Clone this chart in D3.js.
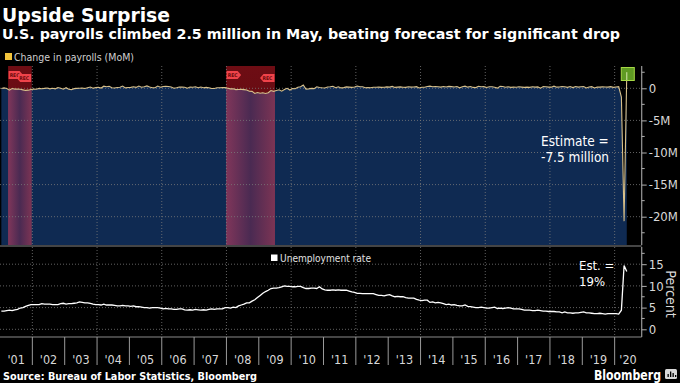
<!DOCTYPE html>
<html>
<head>
<meta charset="utf-8">
<script src="https://cdn.jsdelivr.net/npm/d3@7/dist/d3.min.js"></script>
<style>
html,body{margin:0;padding:0;background:#000;}
svg{display:block;}
</style>
</head>
<body>
<svg id="chart" width="680" height="383"></svg>
<script>
// ---------------- DATA ----------------
const title = "Upside Surprise";
const subtitle = "U.S. payrolls climbed 2.5 million in May, beating forecast for significant drop";
const yearLabels = ["'01","'02","'03","'04","'05","'06","'07","'08","'09","'10","'11","'12","'13","'14","'15","'16","'17","'18","'19","'20"];
const firstYear = 2001;
// Monthly change in nonfarm payrolls (thousands), Jan 2001 - May 2020
const payrollChange = [
  -20, 70, -30, -280, -40, -130, -120, -160, -240, -330, -290, -180,
  -130, -140, -20, -80, -10, 40, -90, 10, -80, 120, 10, -150,
  90, -160, -210, -50, -10, 0, 20, -40, 100, 200, 20, 110,
  160, 40, 330, 250, 310, 80, 40, 130, 160, 350, 60, 130,
  140, 240, 140, 360, 170, 240, 370, 190, 80, 80, 340, 160,
  280, 320, 290, 190, 20, 80, 200, 180, 160, 10, 210, 170,
  240, 90, 190, 80, 140, 80, -30, -20, 80, 80, 110, 100,
  20, -90, -80, -210, -190, -170, -210, -270, -460, -480, -800, -660,
  -780, -700, -800, -690, -350, -470, -330, -220, -440, -200, -10, -270,
  -30, -60, 170, 250, 520, -120, -90, -20, -50, 240, 130, 80,
  50, 200, 250, 320, 100, 230, 60, 110, 220, 190, 140, 210,
  360, 230, 230, 80, 110, 80, 170, 170, 190, 150, 170, 220,
  190, 300, 140, 190, 220, 160, 140, 240, 190, 210, 260, 60,
  160, 160, 280, 330, 240, 290, 240, 190, 280, 210, 300, 260,
  200, 280, 80, 250, 340, 180, 280, 140, 110, 320, 250, 260,
  130, 240, 230, 160, 30, 300, 270, 170, 240, 140, 180, 170,
  230, 190, 150, 180, 140, 230, 190, 220, 20, 260, 230, 190,
  180, 330, 180, 200, 280, 230, 150, 270, 110, 270, 180, 240,
  270, 50, 190, 260, 60, 180, 190, 220, 210, 190, 260, 150,
  210, 250, -1370, -20690, 2510
];
// Monthly unemployment rate (%), Jan 2001 - May 2020
const unemploymentRate = [
  4.2,4.2,4.3,4.4,4.3,4.5,4.6,4.9,5.0,5.3,5.5,5.7,
  5.7,5.7,5.7,5.9,5.8,5.8,5.8,5.7,5.7,5.7,5.9,6.0,
  5.8,5.9,5.9,6.0,6.1,6.3,6.2,6.1,6.1,6.0,5.8,5.7,
  5.7,5.6,5.8,5.6,5.6,5.6,5.5,5.4,5.4,5.5,5.4,5.4,
  5.3,5.4,5.2,5.2,5.1,5.0,5.0,4.9,5.0,5.0,5.0,4.9,
  4.7,4.8,4.7,4.7,4.6,4.6,4.7,4.7,4.5,4.4,4.5,4.4,
  4.6,4.5,4.4,4.5,4.4,4.6,4.7,4.6,4.7,4.7,4.7,5.0,
  5.0,4.9,5.1,5.0,5.4,5.6,5.8,6.1,6.1,6.5,6.8,7.3,
  7.8,8.3,8.7,9.0,9.4,9.5,9.5,9.6,9.8,10.0,9.9,9.9,
  9.8,9.8,9.9,9.9,9.6,9.4,9.4,9.5,9.5,9.4,9.8,9.3,
  9.1,9.0,9.0,9.1,9.0,9.1,9.0,9.0,9.0,8.8,8.6,8.5,
  8.3,8.3,8.2,8.2,8.2,8.2,8.2,8.0,7.8,7.8,7.7,7.9,
  8.0,7.7,7.5,7.6,7.5,7.5,7.3,7.2,7.2,7.2,6.9,6.7,
  6.6,6.7,6.7,6.2,6.3,6.1,6.2,6.1,5.9,5.7,5.8,5.6,
  5.7,5.5,5.4,5.4,5.6,5.3,5.2,5.1,5.0,5.0,5.1,5.0,
  4.9,4.9,5.0,5.1,4.8,4.9,4.8,4.9,5.0,4.9,4.7,4.7,
  4.7,4.6,4.4,4.4,4.4,4.3,4.3,4.4,4.3,4.2,4.2,4.1,
  4.1,4.1,4.0,4.0,3.8,4.0,3.8,3.8,3.7,3.8,3.8,3.9,
  4.0,3.8,3.8,3.7,3.6,3.6,3.7,3.6,3.5,3.6,3.6,3.6,
  3.6,3.5,4.4,14.7,13.3
];
// Recession periods (decimal years)
const recessionStarts = [2001.25, 2007.99];
const recessionEnds   = [2001.98, 2009.5];
const payrollTicks = [0, -5000, -10000, -15000, -20000];
const payrollTickLabels = ["0", "-5M", "-10M", "-15M", "-20M"];
const rateTicks = [0, 5, 10, 15];
const estimateText = ["Estimate =", "-7.5 million"];
const estRateText = ["Est. =", "19%"];

// ---------------- LAYOUT ----------------
const svg = d3.select("#chart");
const W = 680, H = 383;
const plotL = 0, plotR = 641.7;
const topT = 66, topB = 245;
const botT = 247, botB = 337;
const FONT = "'DejaVu Sans Condensed','DejaVu Sans',sans-serif";
const FONTW = "'DejaVu Sans',Verdana,sans-serif";

const x = d3.scaleLinear().domain([2001, 2021]).range([0, 647]);
const yTop = d3.scaleLinear().domain([0, -20000]).range([88.3, 216.7]);
const yBot = d3.scaleLinear().domain([0, 15]).range([329.3, 264.2]);

const monthX = i => x(firstYear + (i + 0.5) / 12);

svg.append("rect").attr("width", W).attr("height", H).attr("fill", "#000");

const defs = svg.append("defs");
defs.append("clipPath").attr("id", "topClip").append("rect")
  .attr("x", plotL).attr("y", topT).attr("width", plotR - plotL).attr("height", topB - topT);
defs.append("clipPath").attr("id", "botClip").append("rect")
  .attr("x", plotL).attr("y", botT).attr("width", plotR - plotL).attr("height", botB - botT);

const area = d3.area()
  .x((d, i) => monthX(i))
  .y0(topB)
  .y1(d => yTop(d));
defs.append("clipPath").attr("id", "areaClip").append("path")
  .attr("d", area(payrollChange));

const gradNavy = defs.append("linearGradient").attr("id", "recNavy")
  .attr("x1", "0").attr("x2", "1").attr("y1", "0").attr("y2", "0");
gradNavy.append("stop").attr("offset", "0").attr("stop-color", "#80365a");
gradNavy.append("stop").attr("offset", "0.5").attr("stop-color", "#4a2a52");
gradNavy.append("stop").attr("offset", "1").attr("stop-color", "#7c3454");

const gradBlack = defs.append("linearGradient").attr("id", "recBlack")
  .attr("x1", "0").attr("x2", "0").attr("y1", "0").attr("y2", "1");
gradBlack.append("stop").attr("offset", "0").attr("stop-color", "#6e0d14");
gradBlack.append("stop").attr("offset", "1").attr("stop-color", "#4e090e");

// ---------- TOP CHART ----------
const gTop = svg.append("g").attr("clip-path", "url(#topClip)");

recessionStarts.forEach((s, i) => {
  gTop.append("rect")
    .attr("x", x(s)).attr("y", topT)
    .attr("width", x(recessionEnds[i]) - x(s)).attr("height", topB - topT)
    .attr("fill", "url(#recBlack)");
});

gTop.append("path").attr("d", area(payrollChange)).attr("fill", "#0f2a52");

const gRecNavy = gTop.append("g").attr("clip-path", "url(#areaClip)");
recessionStarts.forEach((s, i) => {
  gRecNavy.append("rect")
    .attr("x", x(s)).attr("y", topT)
    .attr("width", x(recessionEnds[i]) - x(s)).attr("height", topB - topT)
    .attr("fill", "url(#recNavy)");
});

const gridYears = d3.range(2002, 2021, 2);
gTop.selectAll(".vgT").data(gridYears).enter().append("line")
  .attr("x1", d => x(d)).attr("x2", d => x(d))
  .attr("y1", topT).attr("y2", topB)
  .attr("stroke", "#7a7a7a").attr("stroke-width", 0.8).attr("stroke-dasharray", "1,2");
gTop.selectAll(".hgT").data(payrollTicks).enter().append("line")
  .attr("x1", plotL).attr("x2", plotR)
  .attr("y1", d => yTop(d)).attr("y2", d => yTop(d))
  .attr("stroke", "#7a7a7a").attr("stroke-width", 0.8).attr("stroke-dasharray", "1,2");

const line = d3.line().x((d, i) => monthX(i)).y(d => yTop(d));
gTop.append("path").attr("d", line(payrollChange))
  .attr("fill", "none").attr("stroke", "#d8c08a").attr("stroke-width", 1.1);

function recMarker(px, py, dir) {
  const w = 11, h = 8, tip = 3.5;
  let pts;
  if (dir > 0) {
    pts = [[px, py], [px + w, py], [px + w + tip, py + h / 2], [px + w, py + h], [px, py + h]];
  } else {
    pts = [[px, py], [px - w, py], [px - w - tip, py + h / 2], [px - w, py + h], [px, py + h]];
  }
  svg.append("polygon").attr("points", pts.map(p => p.join(",")).join(" "))
    .attr("fill", "#f0434a");
  svg.append("text")
    .attr("x", dir > 0 ? px + w / 2 + 0.5 : px - w / 2 - 1.5)
    .attr("y", py + h / 2 + 1.8)
    .attr("text-anchor", "middle")
    .attr("font-family", FONT).attr("font-size", 5).attr("font-weight", "bold")
    .attr("fill", "#6a0a0a").text("REC");
}
recessionStarts.forEach((s, i) => {
  recMarker(x(s) + 0.5, 71, 1);
  recMarker(x(recessionEnds[i]) - 0.5, 74, -1);
});

const lastIdx = payrollChange.length - 1;
svg.append("rect")
  .attr("x", monthX(lastIdx) - 5.5).attr("y", 67.5)
  .attr("width", 13).attr("height", 13)
  .attr("fill", "#5f9a23").attr("stroke", "#a6d845").attr("stroke-width", 1);
svg.append("line")
  .attr("x1", monthX(lastIdx)).attr("x2", monthX(lastIdx))
  .attr("y1", yTop(payrollChange[lastIdx])).attr("y2", 80)
  .attr("stroke", "#d8e8b0").attr("stroke-width", 1);

svg.append("text").attr("x", 541).attr("y", 146)
  .attr("font-family", FONT).attr("font-size", 13.5).attr("fill", "#fff")
  .selectAll("tspan").data(estimateText).enter().append("tspan")
  .attr("x", 541).attr("dy", (d, i) => i === 0 ? 0 : 16).text(d => d);

svg.append("rect").attr("x", 5).attr("y", 53).attr("width", 7).attr("height", 7).attr("fill", "#f2c43c");
svg.append("text").attr("x", 14).attr("y", 60.5)
  .attr("font-family", FONT).attr("font-size", 10.5).attr("fill", "#cfcfcf")
  .attr("textLength", 120).attr("lengthAdjust", "spacingAndGlyphs")
  .text("Change in payrolls (MoM)");

// ---------- BOTTOM CHART ----------
const gBot = svg.append("g").attr("clip-path", "url(#botClip)");
gBot.selectAll(".vgB").data(gridYears).enter().append("line")
  .attr("x1", d => x(d)).attr("x2", d => x(d))
  .attr("y1", botT).attr("y2", botB)
  .attr("stroke", "#7a7a7a").attr("stroke-width", 0.8).attr("stroke-dasharray", "1,2");
gBot.selectAll(".hgB").data(rateTicks).enter().append("line")
  .attr("x1", plotL).attr("x2", plotR)
  .attr("y1", d => yBot(d)).attr("y2", d => yBot(d))
  .attr("stroke", "#7a7a7a").attr("stroke-width", 0.8).attr("stroke-dasharray", "1,2");

const line2 = d3.line().x((d, i) => monthX(i)).y(d => yBot(d));
gBot.append("path").attr("d", line2(unemploymentRate))
  .attr("fill", "none").attr("stroke", "#fff").attr("stroke-width", 1.3);

svg.append("rect").attr("x", 271).attr("y", 254.5).attr("width", 6.5).attr("height", 6.5).attr("fill", "#fff");
svg.append("text").attr("x", 280).attr("y", 261.5)
  .attr("font-family", FONT).attr("font-size", 10.5).attr("fill", "#e0e0e0")
  .attr("textLength", 91).attr("lengthAdjust", "spacingAndGlyphs")
  .text("Unemployment rate");

svg.append("text").attr("x", 579).attr("y", 270)
  .attr("font-family", FONT).attr("font-size", 13).attr("fill", "#fff")
  .selectAll("tspan").data(estRateText).enter().append("tspan")
  .attr("x", 579).attr("dy", (d, i) => i === 0 ? 0 : 15.5).text(d => d);

// ---------- AXES ----------
svg.append("line").attr("x1", 0).attr("x2", plotR).attr("y1", 246).attr("y2", 246)
  .attr("stroke", "#8a8a8a").attr("stroke-width", 1.2);
svg.append("line").attr("x1", 0).attr("x2", plotR).attr("y1", botB).attr("y2", botB)
  .attr("stroke", "#8a8a8a").attr("stroke-width", 1.2);

const axTop = d3.axisRight(yTop).tickValues(payrollTicks).tickFormat((d, i) => payrollTickLabels[i])
  .tickSize(5).tickPadding(2);
const gAxTop = svg.append("g").attr("transform", `translate(${plotR},0)`).call(axTop);
gAxTop.select(".domain").attr("d", `M0,${topT}V${topB}`).attr("stroke", "#9a9a9a").attr("stroke-width", 1.2);
gAxTop.selectAll(".tick line").attr("stroke", "#b0b0b0");
gAxTop.selectAll(".tick text").attr("font-family", FONT).attr("font-size", 13).attr("fill", "#d8d8d8");
const minorTop = d3.range(2500, -25000, -5000);
svg.selectAll(".mtT").data(minorTop).enter().append("line")
  .attr("x1", plotR).attr("x2", plotR + 3)
  .attr("y1", d => yTop(d)).attr("y2", d => yTop(d))
  .attr("stroke", "#b0b0b0").filter(d => yTop(d) < topT || yTop(d) > topB).remove();

const axBot = d3.axisRight(yBot).tickValues(rateTicks).tickSize(5).tickPadding(2);
const gAxBot = svg.append("g").attr("transform", `translate(${plotR},0)`).call(axBot);
gAxBot.select(".domain").attr("d", `M0,${botT}V${botB}`).attr("stroke", "#9a9a9a").attr("stroke-width", 1.2);
gAxBot.selectAll(".tick line").attr("stroke", "#b0b0b0");
gAxBot.selectAll(".tick text").attr("font-family", FONT).attr("font-size", 13).attr("fill", "#d8d8d8");
const minorBot = [2.5, 7.5, 12.5, 17.5];
svg.selectAll(".mtB").data(minorBot).enter().append("line")
  .attr("x1", plotR).attr("x2", plotR + 3)
  .attr("y1", d => yBot(d)).attr("y2", d => yBot(d))
  .attr("stroke", "#b0b0b0");

svg.append("text")
  .attr("transform", "translate(666,294) rotate(90)")
  .attr("text-anchor", "middle")
  .attr("font-family", FONT).attr("font-size", 14).attr("fill", "#d8d8d8")
  .text("Percent");

const yearBounds = d3.range(2002, 2021);
svg.selectAll(".sep").data(yearBounds).enter().append("line")
  .attr("x1", d => x(d)).attr("x2", d => x(d))
  .attr("y1", botB).attr("y2", 365)
  .attr("stroke", "#9a9a9a").attr("stroke-width", 1);
svg.selectAll(".xl").data(yearLabels).enter().append("text")
  .attr("x", (d, i) => Math.min(x(firstYear + i + 0.5), 628))
  .attr("y", 363.5)
  .attr("text-anchor", "middle")
  .attr("font-family", FONT).attr("font-size", 12.5).attr("fill", "#d8d8d8")
  .text(d => d);

// ---------- TITLES & FOOTER ----------
svg.append("text").attr("x", 2).attr("y", 22)
  .attr("font-family", FONTW).attr("font-size", 19).attr("font-weight", "bold").attr("fill", "#fff")
  .attr("textLength", 168).attr("lengthAdjust", "spacingAndGlyphs")
  .text(title);
svg.append("text").attr("x", 2).attr("y", 39)
  .attr("font-family", FONTW).attr("font-size", 14).attr("font-weight", "bold").attr("fill", "#fff")
  .attr("textLength", 618).attr("lengthAdjust", "spacingAndGlyphs")
  .text(subtitle);
svg.append("text").attr("x", 3).attr("y", 379.5)
  .attr("font-family", FONT).attr("font-size", 10.5).attr("font-weight", "bold").attr("fill", "#fff")
  .attr("textLength", 254).attr("lengthAdjust", "spacingAndGlyphs")
  .text("Source: Bureau of Labor Statistics, Bloomberg");
svg.append("text").attr("x", 594).attr("y", 379.5)
  .attr("font-family", "'DejaVu Sans',sans-serif").attr("font-size", 13.5).attr("font-weight", 600).attr("fill", "#fff")
  .attr("textLength", 67).attr("lengthAdjust", "spacingAndGlyphs")
  .text("Bloomberg");
svg.append("rect").attr("x", 665).attr("y", 369).attr("width", 12).attr("height", 10).attr("rx", 1.5).attr("fill", "#d8d8d8");
[[667.5, 374, 3], [670, 371.5, 5.5], [672.5, 373, 4], [675, 375, 2]].forEach(b => {
  svg.append("rect").attr("x", b[0]).attr("y", b[1]).attr("width", 1.3).attr("height", b[2]).attr("fill", "#000");
});
</script>
</body>
</html>
